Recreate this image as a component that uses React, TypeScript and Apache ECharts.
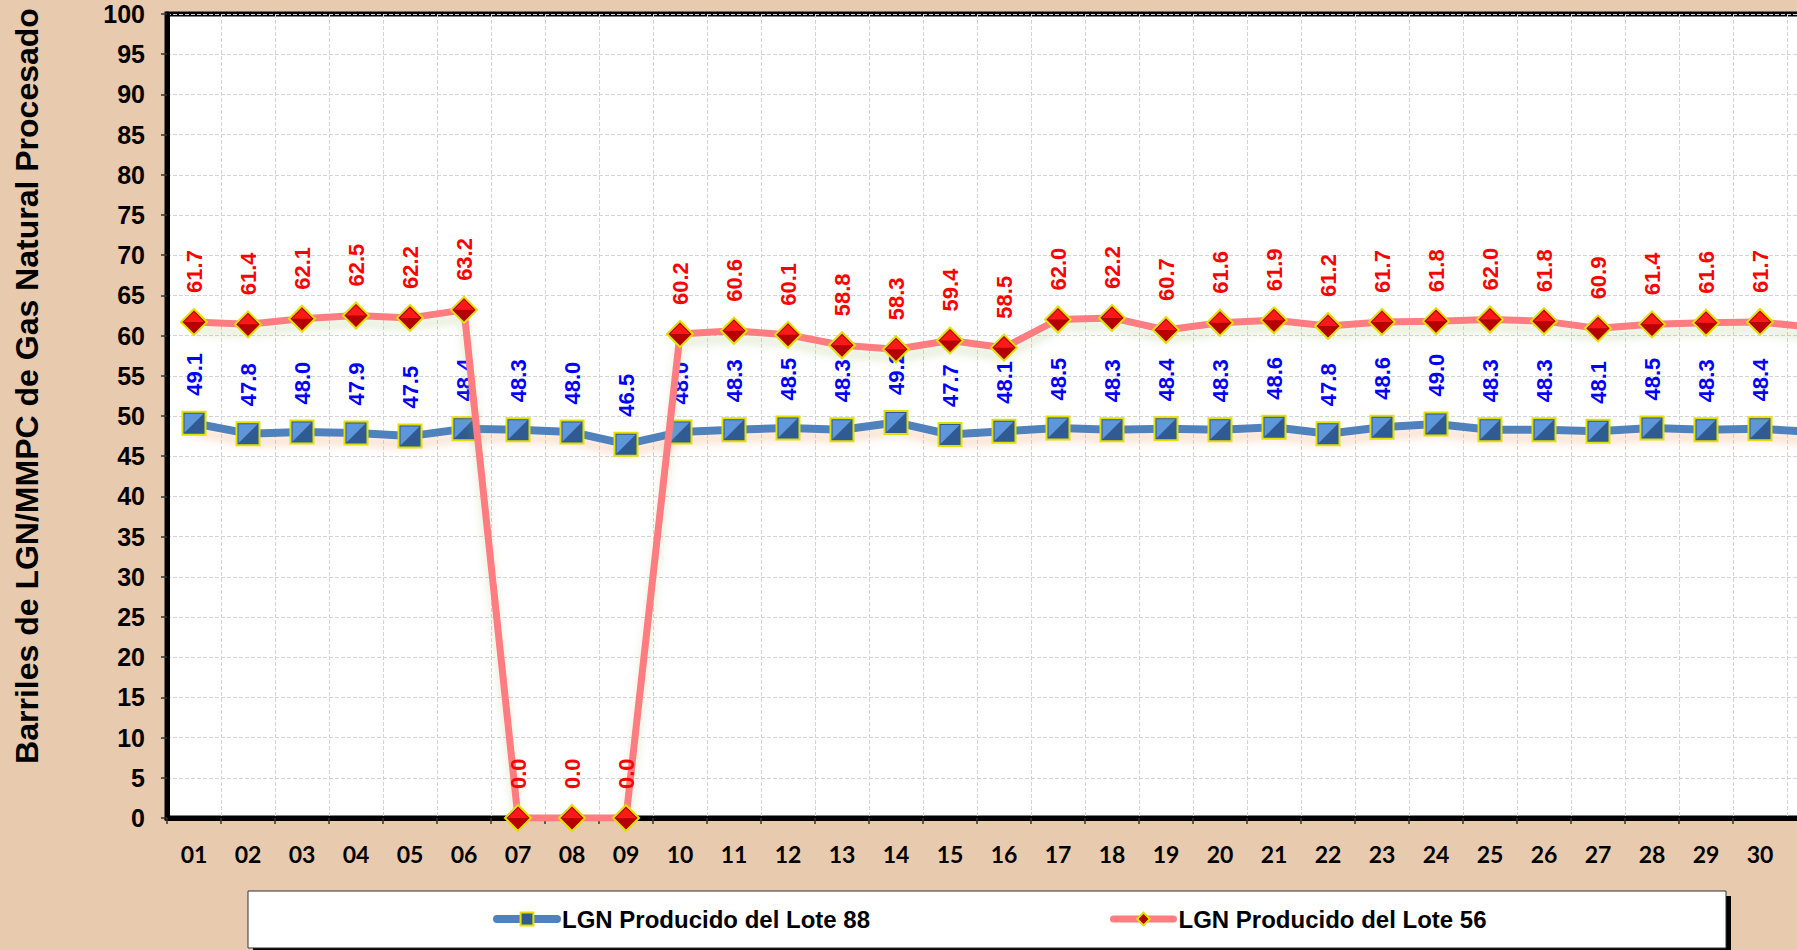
import React, { useEffect, useRef } from 'react';
import * as echarts from 'echarts';

const days = ['01', '02', '03', '04', '05', '06', '07', '08', '09', '10', '11', '12', '13', '14', '15', '16', '17', '18', '19', '20', '21', '22', '23', '24', '25', '26', '27', '28', '29', '30', '31'];
const lote88 = [49.1, 47.8, 48.0, 47.9, 47.5, 48.4, 48.3, 48.0, 46.5, 48.0, 48.3, 48.5, 48.3, 49.2, 47.7, 48.1, 48.5, 48.3, 48.4, 48.3, 48.6, 47.8, 48.6, 49.0, 48.3, 48.3, 48.1, 48.5, 48.3, 48.4, 48.0];
const lote56 = [61.7, 61.4, 62.1, 62.5, 62.2, 63.2, 0.0, 0.0, 0.0, 60.2, 60.6, 60.1, 58.8, 58.3, 59.4, 58.5, 62.0, 62.2, 60.7, 61.6, 61.9, 61.2, 61.7, 61.8, 62.0, 61.8, 60.9, 61.4, 61.6, 61.7, 61.0];
const name88 = 'LGN Producido del Lote 88';
const name56 = 'LGN Producido del Lote 56';
const yTitle = 'Barriles de LGN/MMPC de Gas Natural Procesado';

const ARIAL = 'Arial, "Liberation Sans", sans-serif';
const CHART_W = 1900;

function withHiddenLast(arr: number[]) {
  return arr.map((v, i) => (i === arr.length - 1 ? { value: v, label: { show: false } } : v));
}

export default function App() {
  const ref = useRef<HTMLDivElement>(null);
  useEffect(() => {
    document.documentElement.style.overflow = 'hidden';
    document.body.style.overflow = 'hidden';
    const chart = echarts.init(ref.current!, null, { renderer: 'svg' });
    const labelBase = {
      show: true,
      position: 'top',
      distance: 15,
      rotate: 90,
      align: 'left',
      verticalAlign: 'middle',
      fontFamily: ARIAL,
      fontWeight: 'bold',
      fontSize: 22,
      formatter: (p: any) => Number(p.value).toFixed(1),
    };
    const legendText = { fontFamily: ARIAL, fontWeight: 'bold', fontSize: 24, color: '#000' };
    chart.setOption({
      animation: false,
      backgroundColor: '#E8CAAF',
      grid: {
        left: 167,
        top: 14,
        right: CHART_W - 1841,
        bottom: 132,
        show: true,
        backgroundColor: '#ffffff',
        borderColor: '#000000',
        borderWidth: 5,
      },
      legend: [
        {
          data: [name88],
          left: 493,
          top: 907,
          padding: 0,
          itemWidth: 60,
          itemHeight: 16,
          textStyle: legendText,
          lineStyle: { width: 8, cap: 'round' },
          selectedMode: false,
        },
        {
          data: [name56],
          left: 1110,
          top: 907,
          padding: 0,
          itemWidth: 60,
          itemHeight: 16,
          textStyle: legendText,
          lineStyle: { width: 7, cap: 'round' },
          selectedMode: false,
        },
      ],
      graphic: [
        { type: 'rect', z: 0, shape: { x: 253, y: 896, width: 1478, height: 60 }, style: { fill: '#000' } },
        { type: 'rect', z: 1, shape: { x: 248, y: 891, width: 1478, height: 57 }, style: { fill: '#fff', stroke: '#333', lineWidth: 1 } },
        {
          type: 'text',
          x: 27,
          y: 386,
          rotation: Math.PI / 2,
          style: {
            text: yTitle,
            fontFamily: ARIAL,
            fontWeight: 'bold',
            fontSize: 32,
            fill: '#000',
            align: 'center',
            verticalAlign: 'middle',
          },
        },
      ],
      xAxis: {
        type: 'category',
        data: days,
        boundaryGap: true,
        axisLine: { show: true, lineStyle: { color: '#000', width: 5 } },
        axisTick: { show: true, length: 6, alignWithLabel: false, lineStyle: { color: '#333', width: 1.5 } },
        axisLabel: {
          interval: (i: number) => i < days.length - 1,
          margin: 24,
          fontFamily: 'Lato, "Open Sans", sans-serif',
          fontWeight: 'bold',
          fontSize: 23,
          color: '#000',
        },
        splitLine: { show: true, interval: 0, lineStyle: { color: '#D4D4D4', type: 'dashed', width: 1 } },
      },
      yAxis: {
        type: 'value',
        min: 0,
        max: 100,
        interval: 5,
        axisLine: { show: true, lineStyle: { color: '#000', width: 5 } },
        axisTick: { show: true, length: 6, lineStyle: { color: '#333', width: 1.5 } },
        axisLabel: { margin: 22, fontFamily: ARIAL, fontWeight: 'bold', fontSize: 25, color: '#000' },
        splitLine: { show: true, lineStyle: { color: '#D4D4D4', type: 'dashed', width: 1 } },
      },
      series: [
        {
          name: name88,
          type: 'line',
          data: withHiddenLast(lote88),
          symbol: 'rect',
          symbolSize: 23,
          z: 3,
          lineStyle: {
            color: '#4F81BD',
            width: 8,
            cap: 'round',
            shadowColor: 'rgba(235,150,90,0.35)',
            shadowBlur: 10,
            shadowOffsetY: 8,
          },
          itemStyle: { color: '#2F5A92', borderColor: '#E2E000', borderWidth: 2 },
          label: { ...labelBase, color: '#0000FF' },
        },
        {
          name: 'lote88-face',
          type: 'line',
          data: lote88,
          symbol: 'path://M0,0L10,0L5,5L0,10Z',
          symbolSize: 19,
          z: 4,
          silent: true,
          lineStyle: { width: 0, opacity: 0 },
          itemStyle: { color: '#5E96DA' },
          label: { show: false },
          tooltip: { show: false },
        },
        {
          name: name56,
          type: 'line',
          data: withHiddenLast(lote56),
          symbol: 'diamond',
          symbolSize: 26,
          z: 5,
          lineStyle: {
            color: '#FF7C80',
            width: 7,
            cap: 'round',
            shadowColor: 'rgba(150,180,90,0.3)',
            shadowBlur: 10,
            shadowOffsetY: 8,
          },
          itemStyle: { color: '#B40000', borderColor: '#E2E000', borderWidth: 2 },
          label: { ...labelBase, color: '#FF0000' },
        },
        {
          name: 'lote56-face',
          type: 'line',
          data: lote56,
          symbol: 'triangle',
          symbolSize: [20, 10],
          symbolOffset: [0, -5],
          z: 6,
          silent: true,
          lineStyle: { width: 0, opacity: 0 },
          itemStyle: { color: '#FF1A1A' },
          label: { show: false },
          tooltip: { show: false },
        },
      ],
    });
    return () => chart.dispose();
  }, []);
  return <div ref={ref} style={{ position: 'fixed', left: 0, top: 0, width: CHART_W, height: 950 }} />;
}
